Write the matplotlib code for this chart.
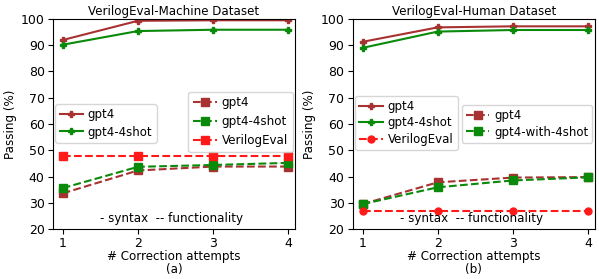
import matplotlib
matplotlib.use("Agg")
import matplotlib.pyplot as plt

attempts = [1, 2, 3, 4]

# (a) VerilogEval-Machine
m_syn_gpt4 = [92.0, 99.3, 99.5, 99.5]
m_syn_4shot = [90.2, 95.4, 95.9, 95.9]
m_fun_gpt4 = [33.6, 42.3, 43.8, 43.8]
m_fun_4shot = [35.6, 43.7, 44.4, 45.2]
m_base = [48.0, 48.0, 48.0, 48.0]

# (b) VerilogEval-Human
h_syn_gpt4 = [91.3, 96.8, 97.2, 97.2]
h_syn_4shot = [89.0, 95.2, 95.8, 95.8]
h_fun_gpt4 = [29.5, 37.8, 39.6, 39.8]
h_fun_4shot = [29.5, 35.9, 38.5, 39.7]
h_base = [27.0, 27.0, 27.0, 27.0]

BROWN = "#a83232"
GREEN = "#0a8a0a"
RED = "#ff1a1a"

fig = plt.figure(figsize=(5.99, 2.79), dpi=100)
axA = fig.add_axes([0.0885, 0.179, 0.404, 0.753])
axB = fig.add_axes([0.589, 0.179, 0.404, 0.753])

FS = 8.3

def setup(ax, title, sub):
    ax.set_title(title, fontsize=FS + 0.3, pad=3)
    ax.set_ylim(20, 100)
    ax.set_xlim(0.87, 4.09)
    ax.set_xticks(attempts)
    ax.set_yticks(range(20, 101, 10))
    ax.tick_params(labelsize=FS + 0.7, pad=2.5)
    ax.set_ylabel("Passing (%)", fontsize=FS + 0.3, labelpad=3)
    ax.set_xlabel("# Correction attempts\n(%s)" % sub,
                  fontsize=FS + 0.3, labelpad=0, linespacing=1.0)
    ax.text(2.45, 24.2, "- syntax  -- functionality", ha="center", va="center", fontsize=FS + 0.3)

# Panel A
l1, = axA.plot(attempts, m_syn_gpt4, "-P", color=BROWN, lw=1.5, ms=4.5, label="gpt4")
l2, = axA.plot(attempts, m_syn_4shot, "-P", color=GREEN, lw=1.5, ms=4.5, label="gpt4-4shot")
d1, = axA.plot(attempts, m_fun_gpt4, "--s", color=BROWN, lw=1.5, ms=6, label="gpt4")
d2, = axA.plot(attempts, m_fun_4shot, "--s", color=GREEN, lw=1.5, ms=6, label="gpt4-4shot")
d3, = axA.plot(attempts, m_base, "--s", color=RED, lw=1.5, ms=6, label="VerilogEval")
setup(axA, "VerilogEval-Machine Dataset", "a")
legA1 = axA.legend(handles=[l1, l2], loc="lower left", bbox_to_anchor=(0.0, 0.40),
                   fontsize=FS + 0.2, handlelength=2.0, borderaxespad=0.2, labelspacing=0.35,
                   handletextpad=0.4, borderpad=0.35)
axA.add_artist(legA1)
axA.legend(handles=[d1, d2, d3], loc="lower right", bbox_to_anchor=(1.0, 0.355),
           fontsize=FS + 0.3, handlelength=2.0, borderaxespad=0.2, labelspacing=0.5,
           handletextpad=0.4, borderpad=0.4)

# Panel B
k1, = axB.plot(attempts, h_syn_gpt4, "-P", color=BROWN, lw=1.5, ms=4.5, label="gpt4")
k2, = axB.plot(attempts, h_syn_4shot, "-P", color=GREEN, lw=1.5, ms=4.5, label="gpt4-4shot")
e1, = axB.plot(attempts, h_fun_gpt4, "--s", color=BROWN, lw=1.5, ms=6, label="gpt4")
e2, = axB.plot(attempts, h_fun_4shot, "--s", color=GREEN, lw=1.5, ms=6, label="gpt4-with-4shot")
e3, = axB.plot(attempts, h_base, "--o", color=RED, lw=1.5, ms=5, label="VerilogEval")
setup(axB, "VerilogEval-Human Dataset", "b")
legB1 = axB.legend(handles=[k1, k2, e3], loc="lower left", bbox_to_anchor=(0.0, 0.365),
                   fontsize=FS + 0.2, handlelength=2.0, borderaxespad=0.2, labelspacing=0.3,
                   handletextpad=0.4, borderpad=0.35)
axB.add_artist(legB1)
axB.legend(handles=[e1, e2], loc="lower right", bbox_to_anchor=(1.0, 0.40),
           fontsize=FS + 0.2, handlelength=2.0, borderaxespad=0.2, labelspacing=0.3,
           handletextpad=0.4, borderpad=0.35)

fig.savefig("out.png", dpi=100)
